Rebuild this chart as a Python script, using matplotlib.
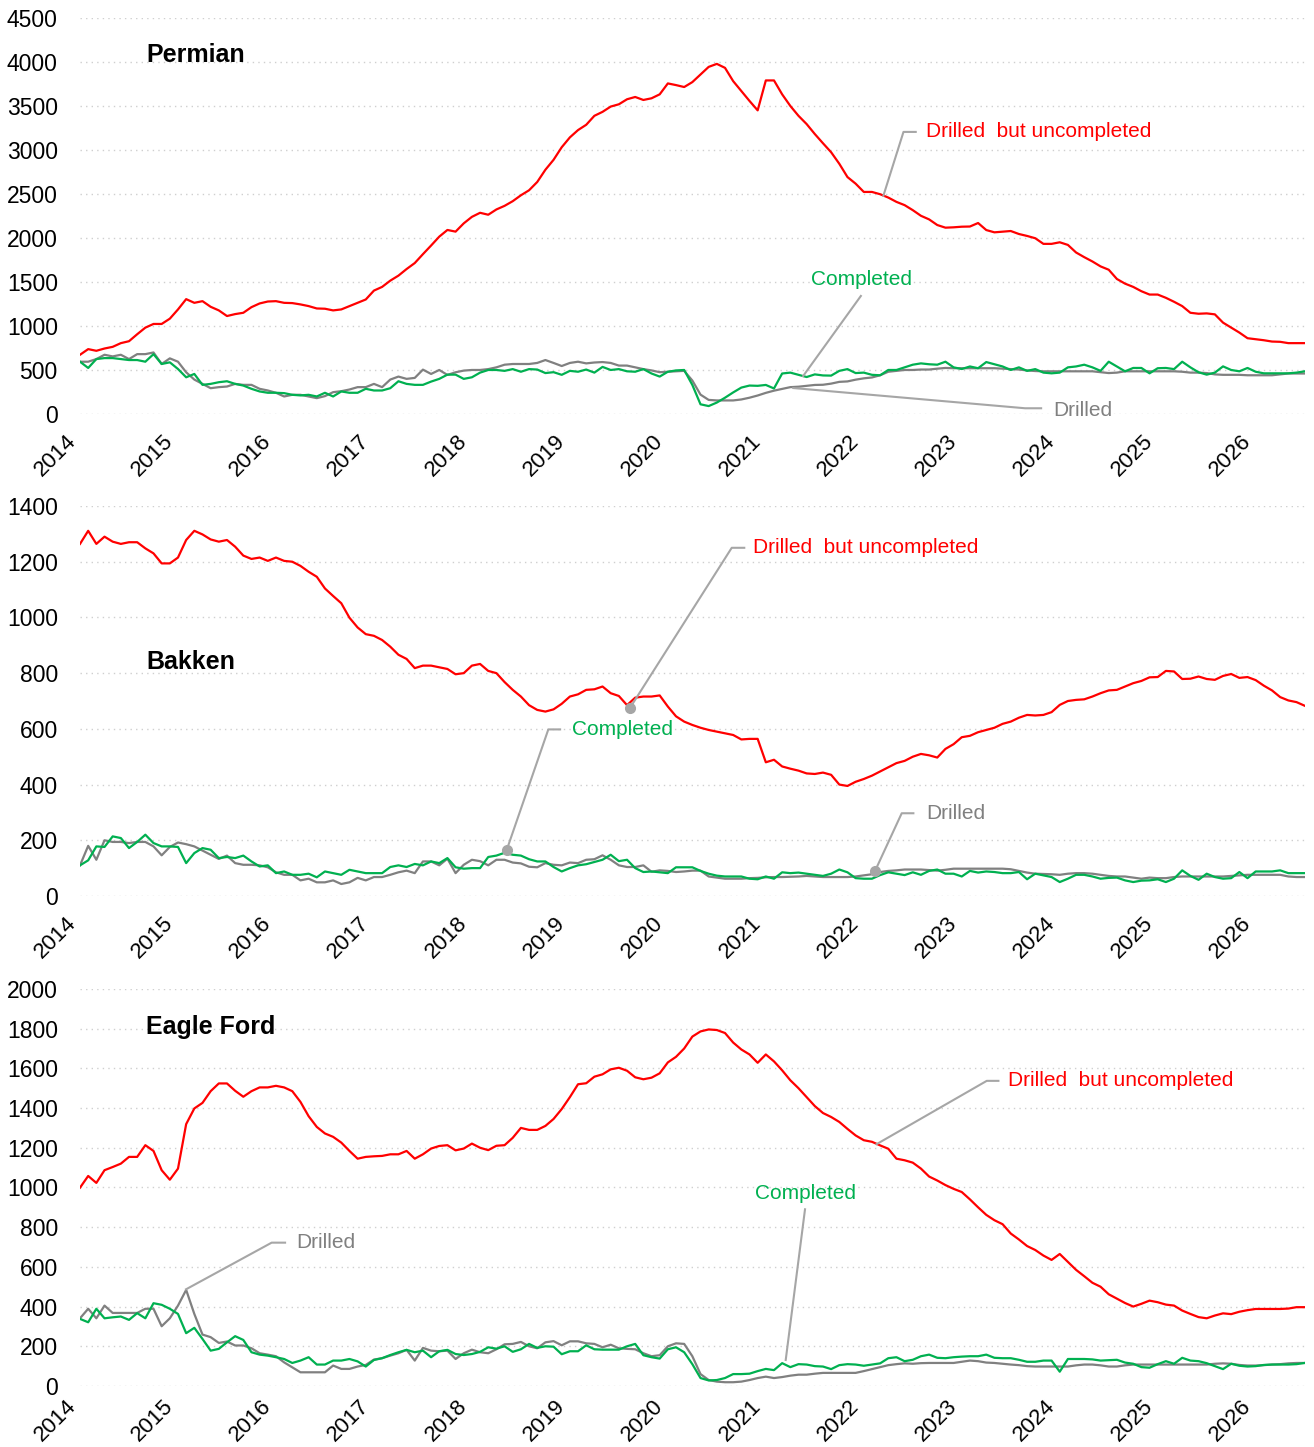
import numpy as np
import matplotlib
matplotlib.use("Agg")
import matplotlib.pyplot as plt

plt.rcParams['font.family'] = ['Liberation Sans', 'DejaVu Sans']

# monthly points, Jan 2014 .. Jul 2026, as decimal years
months = 2014 + np.arange(151) / 12.0
years = list(range(2014, 2027))

# ---- Permian ----
permian_duc = [
    673, 737, 718, 744, 763, 805, 827, 906, 981, 1023, 1023, 1083, 1188,
    1305, 1263, 1282, 1218, 1177, 1113, 1135, 1150, 1214, 1256, 1278, 1282,
    1263, 1260, 1245, 1226, 1199, 1196, 1177, 1188, 1226, 1263, 1301, 1402,
    1444, 1515, 1572, 1647, 1715, 1816, 1914, 2015, 2091, 2072, 2166, 2240,
    2286, 2264, 2324, 2365, 2418, 2485, 2542, 2636, 2775, 2888, 3031, 3143,
    3226, 3286, 3388, 3433, 3493, 3519, 3576, 3602, 3568, 3587, 3632, 3756,
    3737, 3715, 3771, 3858, 3944, 3978, 3933, 3782, 3670, 3557, 3450, 3790,
    3790, 3632, 3500, 3388, 3294, 3181, 3076, 2974, 2843, 2692, 2617, 2523,
    2523, 2497, 2459, 2410, 2373, 2316, 2252, 2211, 2147, 2117, 2121, 2128,
    2130, 2170, 2090, 2064, 2072, 2079, 2045, 2023, 1997, 1933, 1933, 1951,
    1921, 1835, 1782, 1733, 1677, 1639, 1534, 1481, 1444, 1395, 1357, 1357,
    1320, 1275, 1226, 1150, 1139, 1143, 1132, 1038, 981, 925, 861, 850,
    838, 823, 820, 805, 805, 805]
permian_completed = [
    594, 523, 624, 635, 635, 624, 613, 613, 594, 680, 568, 587, 511,
    417, 455, 331, 342, 361, 372, 342, 323, 286, 256, 241, 241,
    237, 218, 211, 218, 199, 241, 199, 256, 241, 241, 286, 267,
    267, 293, 372, 342, 331, 331, 368, 399, 447, 447, 399, 417,
    470, 500, 500, 490, 510, 480, 510, 505, 465, 475, 445, 490,
    480, 505, 470, 535, 500, 510, 485, 480, 510, 460, 425, 480,
    495, 500, 330, 110, 90, 130, 185, 245, 300, 323, 320, 330,
    290, 460, 470, 445, 420, 450, 438, 436, 490, 510, 465, 470,
    445, 440, 500, 500, 530, 560, 575, 565, 560, 594, 530, 511,
    540, 520, 590, 565, 540, 500, 530, 490, 510, 470, 462, 470,
    530, 540, 560, 530, 490, 594, 540, 485, 523, 523, 462, 520,
    523, 510, 594, 530, 474, 447, 470, 541, 500, 485, 523, 480,
    462, 462, 462, 462, 470, 485]
permian_drilled = [
    594, 594, 624, 673, 654, 673, 624, 680, 680, 699, 568, 632, 594,
    474, 391, 342, 293, 305, 312, 342, 331, 331, 286, 267, 241,
    199, 218, 218, 199, 180, 203, 248, 259, 278, 305, 305, 342,
    305, 391, 425, 399, 410, 504, 455, 500, 444, 474, 493, 500,
    500, 510, 530, 560, 568, 568, 568, 580, 613, 580, 545, 580,
    594, 575, 585, 590, 580, 550, 550, 530, 510, 495, 475, 480,
    485, 490, 380, 220, 160, 154, 154, 154, 165, 185, 210, 240,
    265, 285, 305, 310, 320, 330, 332, 345, 365, 370, 390, 405,
    415, 440, 480, 490, 500, 500, 505, 505, 515, 523, 520, 520,
    520, 520, 520, 520, 515, 510, 505, 495, 488, 485, 485, 485,
    485, 485, 485, 485, 475, 465, 470, 485, 485, 485, 485, 485,
    485, 485, 480, 470, 470, 465, 450, 445, 445, 445, 440, 440,
    440, 440, 450, 460, 460, 460]

# ---- Bakken ----
bakken_duc = [
    1264, 1311, 1264, 1290, 1272, 1264, 1270, 1270, 1248, 1230, 1194, 1194, 1215,
    1278, 1311, 1298, 1280, 1272, 1278, 1254, 1222, 1210, 1215, 1203, 1215,
    1203, 1200, 1185, 1164, 1146, 1104, 1077, 1051, 999, 964, 940, 934,
    919, 895, 866, 851, 818, 827, 827, 821, 815, 796, 800, 827,
    833, 808, 800, 768, 740, 716, 685, 668, 662, 670, 690, 716,
    724, 740, 742, 752, 728, 718, 685, 712, 716, 716, 720, 680,
    645, 626, 614, 604, 596, 590, 584, 578, 562, 564, 564, 480,
    489, 465, 457, 450, 440, 438, 443, 435, 400, 395, 410, 420,
    432, 447, 462, 477, 485, 500, 510, 505, 497, 528, 545, 570,
    575, 588, 596, 604, 618, 626, 640, 650, 648, 650, 660, 686,
    700, 704, 706, 716, 728, 738, 740, 752, 764, 772, 785, 786,
    808, 806, 779, 780, 788, 779, 776, 790, 797, 783, 786, 775,
    755, 738, 714, 702, 696, 683]
bakken_completed = [
    110, 128, 178, 176, 214, 208, 172, 194, 220, 190, 178, 178, 176,
    118, 154, 172, 166, 136, 140, 136, 145, 124, 106, 110, 82,
    88, 76, 76, 80, 67, 88, 82, 76, 94, 88, 82, 82,
    82, 104, 110, 104, 115, 110, 124, 118, 136, 103, 98, 100,
    100, 140, 145, 155, 148, 145, 132, 124, 124, 104, 88, 100,
    110, 114, 122, 130, 148, 125, 130, 100, 86, 88, 85, 82,
    103, 103, 103, 90, 80, 73, 70, 70, 70, 62, 60, 70,
    62, 85, 82, 84, 80, 76, 72, 80, 95, 85, 64, 62,
    62, 75, 85, 80, 75, 85, 76, 90, 95, 80, 80, 70,
    90, 84, 88, 86, 82, 82, 86, 60, 80, 74, 68, 50,
    62, 76, 76, 70, 62, 65, 66, 56, 50, 55, 56, 60,
    50, 62, 92, 72, 58, 80, 68, 62, 64, 86, 64, 88,
    88, 88, 92, 82, 82, 82]
bakken_drilled = [
    110, 180, 130, 200, 194, 194, 190, 194, 194, 178, 146, 176, 192,
    186, 178, 163, 148, 133, 145, 118, 112, 112, 110, 103, 85,
    76, 76, 56, 62, 49, 49, 56, 43, 49, 65, 56, 68,
    68, 76, 85, 91, 82, 124, 124, 110, 134, 82, 112, 130,
    125, 110, 130, 130, 120, 117, 105, 103, 118, 112, 110, 120,
    118, 130, 132, 146, 130, 110, 104, 104, 110, 87, 92, 90,
    86, 88, 91, 91, 70, 66, 62, 62, 62, 64, 65, 67,
    68, 68, 69, 70, 72, 70, 68, 68, 68, 68, 70, 74,
    78, 86, 90, 92, 95, 95, 95, 93, 91, 94, 98, 98,
    98, 98, 98, 98, 98, 96, 90, 84, 80, 79, 78, 76,
    80, 82, 82, 80, 76, 72, 70, 70, 66, 62, 66, 64,
    64, 68, 70, 70, 70, 70, 70, 70, 72, 74, 76, 76,
    76, 76, 76, 70, 68, 68]

# ---- Eagle Ford ----
eagle_duc = [
    999, 1058, 1023, 1087, 1103, 1120, 1154, 1154, 1213, 1184, 1087, 1039, 1095,
    1319, 1398, 1426, 1485, 1524, 1524, 1487, 1457, 1485, 1504, 1504, 1512,
    1504, 1485, 1431, 1359, 1305, 1272, 1255, 1226, 1184, 1145, 1154, 1157,
    1159, 1167, 1167, 1184, 1145, 1167, 1196, 1209, 1213, 1187, 1196, 1221,
    1200, 1188, 1210, 1213, 1250, 1300, 1290, 1290, 1310, 1345, 1395, 1455,
    1520, 1525, 1558, 1570, 1595, 1603, 1588, 1555, 1545, 1553, 1575, 1630,
    1658, 1700, 1760, 1786, 1796, 1793, 1778, 1730, 1695, 1670, 1628, 1670,
    1635, 1590, 1540, 1500, 1455, 1410, 1375, 1355, 1330, 1295, 1262, 1238,
    1230, 1212, 1195, 1145, 1137, 1125, 1095, 1055, 1035, 1012, 993, 977,
    940, 900, 862, 835, 815, 768, 738, 705, 685, 657, 635, 665,
    625, 585, 553, 520, 500, 462, 440, 418, 400, 414, 430, 422,
    410, 405, 380, 363, 347, 341, 355, 366, 362, 374, 382, 388,
    388, 388, 388, 390, 397, 397]
eagle_completed = [
    338, 321, 389, 341, 346, 350, 333, 367, 341, 417, 409, 389, 363,
    266, 293, 237, 178, 187, 220, 251, 232, 170, 158, 153, 145,
    136, 116, 128, 145, 108, 108, 128, 128, 136, 124, 98, 131,
    140, 156, 170, 182, 170, 178, 145, 175, 182, 161, 156, 161,
    172, 195, 188, 200, 172, 185, 212, 192, 200, 198, 160, 175,
    175, 205, 185, 183, 183, 183, 200, 212, 155, 145, 138, 185,
    195, 170, 110, 40, 28, 30, 40, 60, 60, 62, 75, 86,
    80, 115, 95, 110, 108, 100, 98, 85, 105, 110, 108, 102,
    108, 114, 140, 145, 125, 132, 150, 158, 142, 140, 145, 148,
    150, 150, 158, 142, 140, 140, 132, 122, 122, 128, 128, 72,
    136, 136, 136, 134, 128, 130, 132, 118, 112, 95, 92, 110,
    125, 112, 142, 128, 125, 115, 100, 85, 112, 102, 98, 100,
    106, 108, 108, 108, 110, 116]
eagle_drilled = [
    341, 389, 341, 405, 368, 368, 368, 368, 389, 389, 301, 341, 405,
    484, 363, 259, 246, 217, 224, 204, 204, 190, 165, 158, 150,
    119, 94, 69, 69, 69, 69, 103, 86, 86, 98, 106, 133,
    140, 153, 165, 182, 128, 192, 178, 175, 178, 136, 165, 183,
    170, 165, 185, 210, 212, 222, 200, 190, 220, 226, 205, 225,
    225, 215, 212, 195, 208, 190, 187, 185, 165, 150, 155, 200,
    215, 212, 150, 60, 30, 22, 19, 19, 22, 30, 40, 47,
    40, 45, 52, 57, 57, 62, 66, 66, 66, 66, 66, 75,
    85, 95, 105, 110, 114, 112, 115, 116, 116, 116, 116, 122,
    128, 125, 118, 116, 112, 108, 105, 100, 98, 98, 98, 98,
    98, 104, 108, 108, 104, 98, 98, 104, 108, 108, 108, 108,
    108, 108, 108, 108, 108, 108, 112, 114, 112, 106, 103, 103,
    105, 108, 110, 114, 116, 116]

RED = '#ff0000'
GREEN = '#00b050'
GREY = '#808080'
LEADER = '#a6a6a6'

fig = plt.figure(figsize=(13.14, 14.47), dpi=100)


def setup(ax, ymax, step, xpad=12):
    # axis limits, ticks and the dotted grid
    ax.set_xlim(months[0], months[-1])
    ax.set_ylim(0, ymax)
    ax.set_yticks(np.arange(0, ymax + 1, step))
    ax.set_xticks(years)
    ax.set_xticklabels([str(y) for y in years], rotation=45, ha='right')
    for s in ax.spines.values():
        s.set_visible(False)
    ax.tick_params(axis='both', length=0, colors='black')
    ax.tick_params(axis='y', pad=16, labelsize=16.5)
    ax.tick_params(axis='x', pad=xpad, labelsize=16)
    ax.yaxis.grid(True, linestyle=(0, (1, 3)), color='#cfcfcf', lw=1)
    ax.set_axisbelow(True)


def lines(ax, duc, completed, drilled):
    ax.plot(months, drilled, color=GREY, lw=1.6)
    ax.plot(months, completed, color=GREEN, lw=1.6)
    ax.plot(months, duc, color=RED, lw=1.6)


def label(ax, pts, text, tx, ty, color, dot=False, ha='left'):
    # leader line from the series to its label
    xs = [p[0] for p in pts]
    ys = [p[1] for p in pts]
    ax.plot(xs, ys, color=LEADER, lw=1.5, clip_on=False, zorder=5)
    if dot:
        ax.plot(xs[0], ys[0], 'o', color=LEADER, ms=7, zorder=6)
    ax.text(tx, ty, text, color=color, fontsize=15, ha=ha, va='center')


# Permian
ax1 = fig.add_axes([0.0609, 0.7139, 0.932, 0.2737])
setup(ax1, 4500, 500)
lines(ax1, permian_duc, permian_completed, permian_drilled)
ax1.text(0.054, 0.907, 'Permian', transform=ax1.transAxes, fontsize=18,
         fontweight='bold', va='center')
label(ax1, [(2022.20, 2480), (2022.405, 3205), (2022.53, 3205)],
      'Drilled  but uncompleted', 2022.64, 3205, RED)
label(ax1, [(2021.38, 430), (2021.97, 1341)], 'Completed', 2021.465, 1523, GREEN)
label(ax1, [(2021.28, 295), (2023.647, 65), (2023.81, 65)],
      'Drilled', 2023.936, 45, GREY)

# Bakken
ax2 = fig.add_axes([0.0609, 0.3808, 0.932, 0.2695])
setup(ax2, 1400, 200)
lines(ax2, bakken_duc, bakken_completed, bakken_drilled)
ax2.text(0.054, 0.60, 'Bakken', transform=ax2.transAxes, fontsize=18,
         fontweight='bold', va='center')
label(ax2, [(2019.615, 676), (2020.652, 1250), (2020.78, 1250)],
      'Drilled  but uncompleted', 2020.873, 1250, RED, dot=True)
label(ax2, [(2018.355, 165), (2018.78, 598), (2018.90, 598)],
      'Completed', 2019.02, 598, GREEN, dot=True)
label(ax2, [(2022.115, 90), (2022.387, 297), (2022.506, 297)],
      'Drilled', 2022.642, 297, GREY, dot=True)

# Eagle Ford (labels pulled up a little so they stay inside the picture)
ax3 = fig.add_axes([0.0609, 0.04216, 0.932, 0.2744])
setup(ax3, 2000, 200, xpad=7)
lines(ax3, eagle_duc, eagle_completed, eagle_drilled)
ax3.text(0.054, 0.904, 'Eagle Ford', transform=ax3.transAxes, fontsize=18,
         fontweight='bold', va='center')
label(ax3, [(2022.13, 1218), (2023.255, 1537), (2023.374, 1537)],
      'Drilled  but uncompleted', 2023.476, 1537, RED)
label(ax3, [(2021.203, 131), (2021.40, 890)], 'Completed', 2021.40, 972,
      GREEN, ha='center')
label(ax3, [(2015.082, 487), (2015.956, 722), (2016.093, 722)],
      'Drilled', 2016.211, 722, GREY)

fig.savefig('out.png', dpi=100)
